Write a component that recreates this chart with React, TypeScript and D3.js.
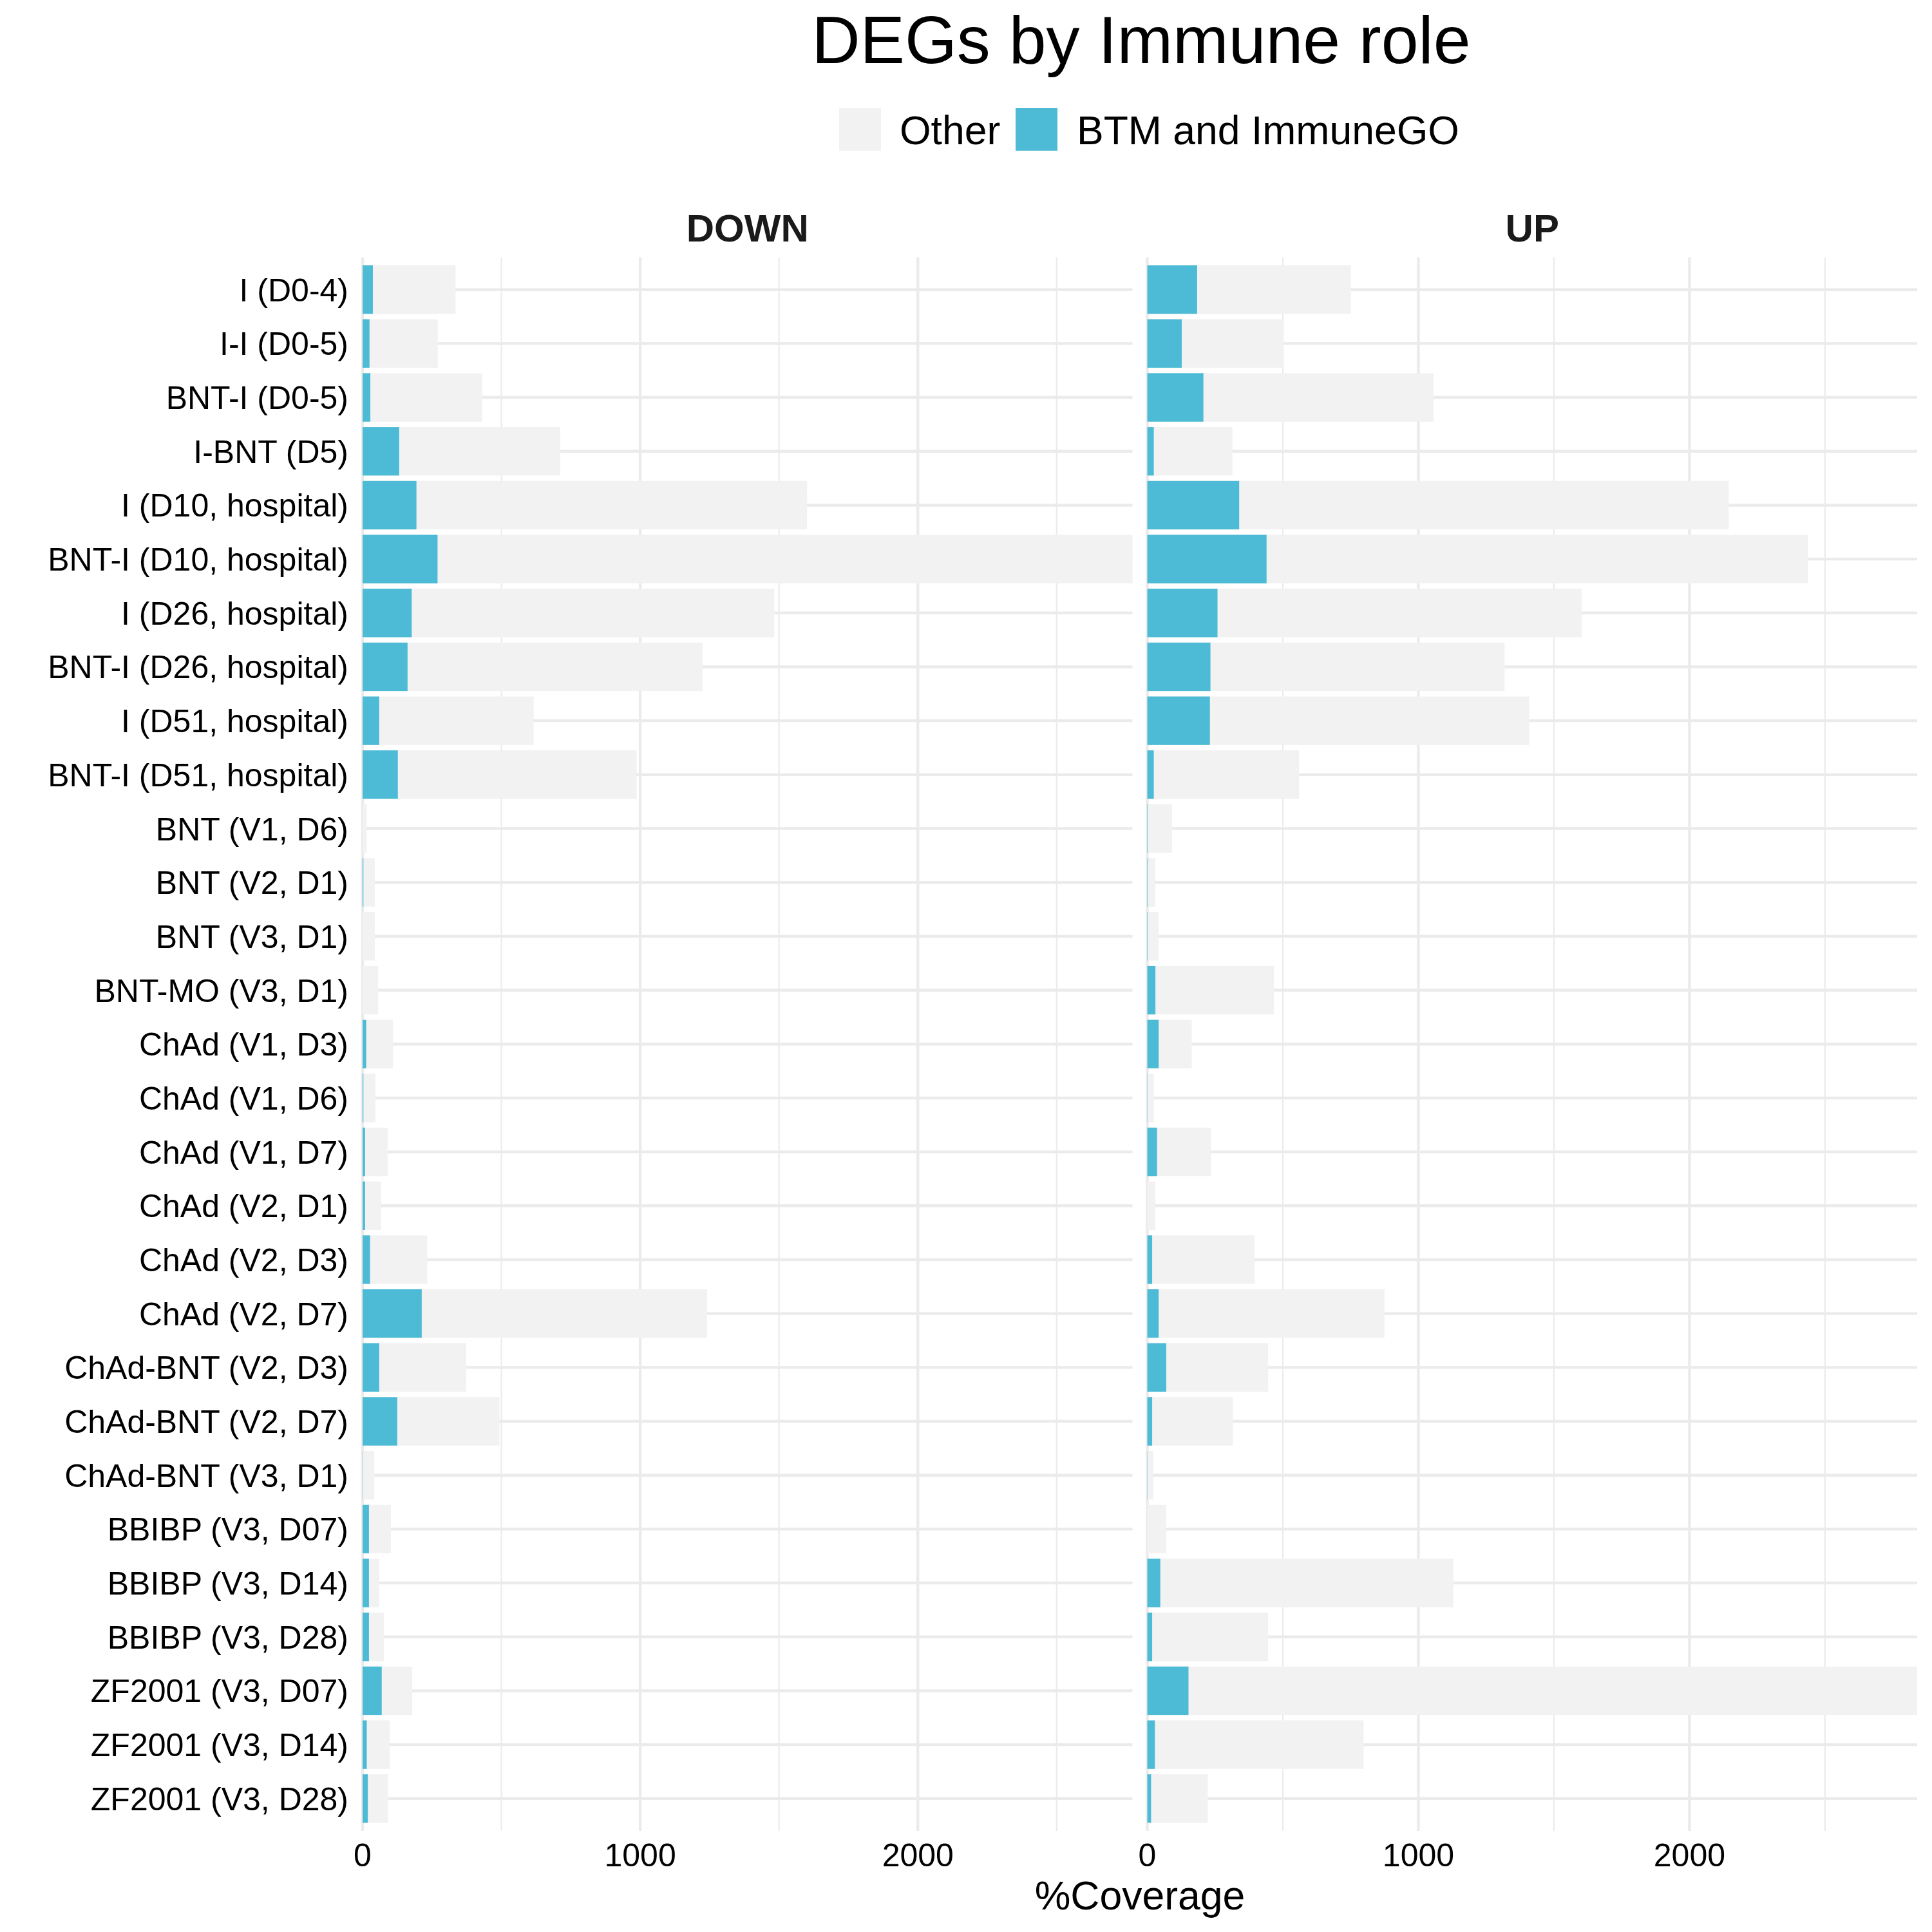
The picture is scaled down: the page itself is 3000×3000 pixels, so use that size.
import React from "react";
import * as d3 from "d3";

const categories = [
  "I (D0-4)", "I-I (D0-5)", "BNT-I (D0-5)", "I-BNT (D5)", "I (D10, hospital)",
  "BNT-I (D10, hospital)", "I (D26, hospital)", "BNT-I (D26, hospital)", "I (D51, hospital)",
  "BNT-I (D51, hospital)", "BNT (V1, D6)", "BNT (V2, D1)", "BNT (V3, D1)", "BNT-MO (V3, D1)",
  "ChAd (V1, D3)", "ChAd (V1, D6)", "ChAd (V1, D7)", "ChAd (V2, D1)", "ChAd (V2, D3)",
  "ChAd (V2, D7)", "ChAd-BNT (V2, D3)", "ChAd-BNT (V2, D7)", "ChAd-BNT (V3, D1)",
  "BBIBP (V3, D07)", "BBIBP (V3, D14)", "BBIBP (V3, D28)", "ZF2001 (V3, D07)",
  "ZF2001 (V3, D14)", "ZF2001 (V3, D28)",
];

// DOWN panel: immune (BTM and ImmuneGO) part and total coverage
const downImmune = [37, 25, 28, 132, 194, 270, 177, 162, 60, 127, 0, 3, 0, 0, 13, 3, 9, 9, 27, 213, 60, 125, 1, 23, 23, 23, 69, 15, 19];
const downTotal = [335, 271, 431, 712, 1601, 2773, 1483, 1225, 616, 987, 15, 44, 44, 56, 110, 46, 90, 67, 233, 1241, 373, 493, 42, 102, 60, 77, 179, 98, 92];

// UP panel
const upImmune = [184, 127, 207, 24, 339, 440, 259, 233, 231, 24, 2, 2, 2, 30, 42, 1, 36, 0, 18, 42, 70, 18, 1, 0, 48, 18, 152, 28, 14];
const upTotal = [751, 501, 1056, 314, 2145, 2437, 1602, 1318, 1409, 560, 91, 30, 42, 467, 164, 24, 235, 30, 396, 875, 446, 316, 22, 70, 1129, 446, 2840, 798, 223];

const panelNames = ["DOWN", "UP"];
const legendLabels = ["Other", "BTM and ImmuneGO"];
const majorTicks = [0, 1000, 2000];
const minorTicks = [500, 1500, 2500];

const COL_OTHER = "#F2F2F2";
const COL_IMMUNE = "#4DBBD5";
const GRID = "#EBEBEB";
const FONT = "'Liberation Sans', Arial, Helvetica, sans-serif";

export default function App() {
  const W = 3000, H = 3000;
  const panelTop = 399.5, panelBottom = 2843;
  const panelW = 1195.5;
  const panelLefts = [563, 563 + panelW + 23];

  const y = d3.scalePoint<string>().domain(categories).range([panelTop, panelBottom]).padding(0.6);
  const step = y.step();
  const barH = step * 0.9;

  const panels = [
    { name: panelNames[0], immune: downImmune, total: downTotal },
    { name: panelNames[1], immune: upImmune, total: upTotal },
  ].map((p, i) => {
    const x = d3.scaleLinear().domain([0, d3.max(p.total) as number]).range([panelLefts[i], panelLefts[i] + panelW]);
    return { ...p, x };
  });

  return (
    <svg width={W} height={H} style={{ position: "absolute", left: 0, top: 0, background: "#fff" }} fontFamily={FONT}>
      <rect x={0} y={0} width={W} height={H} fill="#fff" />
      {/* Title */}
      <text x={1772} y={98} textAnchor="middle" fontSize={104} fill="#000">DEGs by Immune role</text>
      {/* Legend */}
      <rect x={1303} y={168} width={65} height={66} fill={COL_OTHER} />
      <text x={1397} y={224} fontSize={62.5} fill="#000">{legendLabels[0]}</text>
      <rect x={1577} y={168} width={65} height={66} fill={COL_IMMUNE} />
      <text x={1672} y={224} fontSize={62.5} fill="#000">{legendLabels[1]}</text>

      {panels.map((p, pi) => {
        const [x0, x1] = p.x.range();
        return (
          <g key={p.name}>
            <text x={(x0 + x1) / 2} y={375} textAnchor="middle" fontSize={60} fontWeight="bold" fill="#1A1A1A">{p.name}</text>
            {minorTicks.filter((t) => t <= p.x.domain()[1]).map((t) => (
              <line key={"mn" + t} x1={p.x(t)} x2={p.x(t)} y1={panelTop} y2={panelBottom} stroke={GRID} strokeWidth={2.2} />
            ))}
            {categories.map((c) => (
              <line key={"hg" + c} x1={x0} x2={x1} y1={y(c)} y2={y(c)} stroke={GRID} strokeWidth={4.4} />
            ))}
            {majorTicks.map((t) => (
              <line key={"mj" + t} x1={p.x(t)} x2={p.x(t)} y1={panelTop} y2={panelBottom} stroke={GRID} strokeWidth={4.4} />
            ))}
            {categories.map((c, i) => (
              <g key={"b" + c}>
                <rect x={p.x(0)} y={(y(c) as number) - barH / 2} width={p.x(p.total[i]) - p.x(0)} height={barH} fill={COL_OTHER} />
                {p.immune[i] > 0 && (
                  <rect x={p.x(0)} y={(y(c) as number) - barH / 2} width={p.x(p.immune[i]) - p.x(0)} height={barH} fill={COL_IMMUNE} />
                )}
              </g>
            ))}
            {majorTicks.map((t) => (
              <text key={"tl" + t} x={p.x(t)} y={2898} textAnchor="middle" fontSize={50} fill="#000">{t}</text>
            ))}
          </g>
        );
      })}

      {categories.map((c) => (
        <text key={"yl" + c} x={541} y={y(c)} dy="0.36em" textAnchor="end" fontSize={50} fill="#000">{c}</text>
      ))}

      <text x={(panelLefts[0] + panelLefts[1] + panelW) / 2} y={2965} textAnchor="middle" fontSize={62.5} fill="#000">%Coverage</text>
    </svg>
  );
}
